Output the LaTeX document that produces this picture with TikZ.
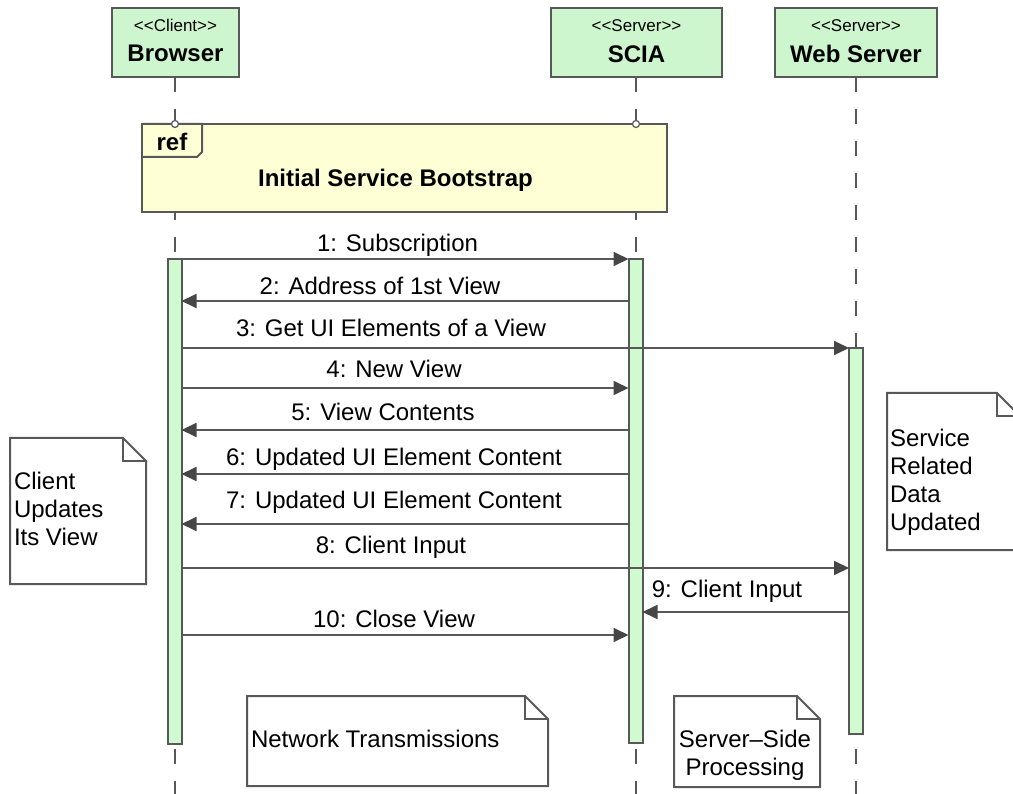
\documentclass[tikz,border=0pt]{standalone}
\usepackage{fontspec}
\setmainfont{Liberation Sans}
\usetikzlibrary{arrows.meta}

\definecolor{edge}{RGB}{88,88,88}
\definecolor{tipgray}{RGB}{70,70,70}
\definecolor{headfill}{RGB}{206,246,206}
\definecolor{barfill}{RGB}{208,250,208}
\definecolor{reffill}{RGB}{255,255,214}

\newcommand{\guil}[1]{<\kern0pt<#1>\kern0pt>}

\begin{document}
\begin{tikzpicture}[x=1pt, y=-1pt,
  every node/.style={inner sep=0pt, outer sep=0pt},
  txt/.style={font=\fontsize{24}{28}\selectfont},
  head/.style={draw=edge, line width=2pt, fill=headfill, rectangle, minimum height=69pt},
  stereo/.style={font=\fontsize{17}{20}\selectfont, anchor=base},
  title/.style={font=\bfseries\fontsize{24}{28}\selectfont, anchor=base},
  life/.style={draw=edge, line width=2pt, dash pattern=on 15pt off 17pt},
  bar/.style={draw=edge, line width=2pt, fill=barfill, rectangle, minimum width=14pt, anchor=north},
  reffr/.style={draw=edge, line width=2pt, fill=reffill, rectangle},
  gate/.style={draw=edge, line width=1.2pt, fill=white, circle, minimum size=7pt},
  msg/.style={draw=edge, line width=1.8pt, -{Triangle[length=15pt,width=14pt,color=tipgray]}},
  lbl/.style={txt, anchor=base},
  notebox/.style={rectangle},
  noteline/.style={draw=edge, line width=2pt, fill=white, line join=miter},
  notetext/.style={txt, align=left, anchor=west}
]
\useasboundingbox (0,0) rectangle (1013,794);

% lifeline heads
\node[head, minimum width=127pt] (browser) at (175.5,42.5) {};
\node[head, minimum width=171pt] (scia) at (636.5,42.5) {};
\node[head, minimum width=162pt] (web) at (856,42.5) {};
\node[stereo] (browserS) at (175.5,32) {\guil{Client}};
\node[title]  (browserT) at (175.5,62) {Browser};
\node[stereo] (sciaS) at (636.5,32) {\guil{Server}};
\node[title]  (sciaT) at (636.5,63) {SCIA};
\node[stereo] (webS) at (856,32) {\guil{Server}};
\node[title]  (webT) at (856,63) {Web Server};

% dashed lifelines
\coordinate (bend) at (175,794);
\coordinate (send) at (636,794);
\coordinate (wend) at (856,794);
\draw[life] (browser.south -| bend) -- (bend);
\draw[life] (scia.south -| send) -- (send);
\draw[life] (web.south -| wend) -- (wend);

% interaction reference frame
\node[reffr, minimum width=525pt, minimum height=88pt] (ref) at (404.5,168) {};
\draw[draw=edge, line width=2pt, line join=miter]
  ([yshift=-33pt]ref.north west) -- ++(55,0) -- ++(5,-5) |- (ref.north west);
\node[title] (refT) at (172,151) {ref};
\node[title] (refN) at (395.5,187) {Initial Service Bootstrap};
\node[gate] (g1) at (bend |- ref.north) {};
\node[gate] (g2) at (send |- ref.north) {};

% activation bars
\node[bar, minimum height=485pt] (bbar) at (174.5,259) {};
\node[bar, minimum height=484pt] (sbar) at (635.5,259) {};
\node[bar, minimum height=386pt] (wbar) at (856,348) {};

% messages
\draw[msg] (bbar.east |- 0,259) -- (sbar.west |- 0,259);
\node[lbl] (l1) at (397.5,252) {1: Subscription};
\draw[msg] (sbar.west |- 0,301) -- (bbar.east |- 0,301);
\node[lbl] (l2) at (380,295) {2: Address of 1st View};
\draw[msg] (bbar.east |- 0,348) -- (wbar.west |- 0,348);
\node[lbl] (l3) at (391,337) {3: Get UI Elements of a View};
\draw[msg] (bbar.east |- 0,388) -- (sbar.west |- 0,388);
\node[lbl] (l4) at (394,378) {4: New View};
\draw[msg] (sbar.west |- 0,430) -- (bbar.east |- 0,430);
\node[lbl] (l5) at (383,421) {5: View Contents};
\draw[msg] (sbar.west |- 0,474) -- (bbar.east |- 0,474);
\node[lbl] (l6) at (394,466) {6: Updated UI Element Content};
\draw[msg] (sbar.west |- 0,524) -- (bbar.east |- 0,524);
\node[lbl] (l7) at (394,508) {7: Updated UI Element Content};
\draw[msg] (bbar.east |- 0,568) -- (wbar.west |- 0,568);
\node[lbl] (l8) at (391,553) {8: Client Input};
\draw[msg] (wbar.west |- 0,612) -- (sbar.east |- 0,612);
\node[lbl] (l9) at (727,597) {9: Client Input};
\draw[msg] (bbar.east |- 0,635) -- (sbar.west |- 0,635);
\node[lbl] (l10) at (394,627) {10: Close View};

% notes
\node[notebox, minimum width=136pt, minimum height=146pt] (n1) at (78,511) {};
\node[notebox, minimum width=133pt, minimum height=157pt] (n2) at (953.5,471.5) {};
\node[notebox, minimum width=301pt, minimum height=90pt] (n3) at (397.5,741) {};
\node[notebox, minimum width=146pt, minimum height=91pt] (n4) at (747,741.5) {};
\foreach \n in {n1,n2,n3,n4} {
  \draw[noteline] (\n.north west) -- ([xshift=-23pt]\n.north east)
    -- ([yshift=-23pt]\n.north east) -- (\n.south east) -- (\n.south west) -- cycle;
  \draw[noteline, fill=none] ([xshift=-23pt]\n.north east) |- ([yshift=-23pt]\n.north east);
}
\node[notetext] (t1) at (14,509) {Client\\Updates\\Its View};
\node[notetext] (t2) at (890,482) {Service\\Related\\Data\\Updated};
\node[notetext] (t3) at (251,739) {Network Transmissions};
\node[txt, align=center] (t4) at (745,755) {Server–Side\\Processing};
\end{tikzpicture}
\end{document}
